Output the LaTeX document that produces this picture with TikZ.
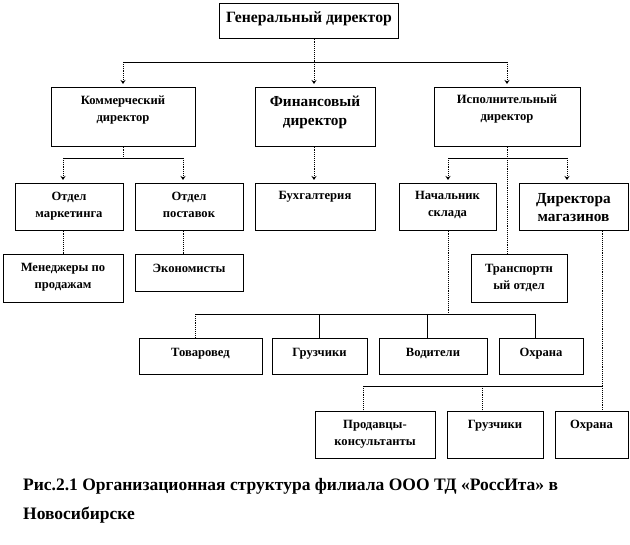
\documentclass[tikz,border=0pt]{standalone}
\usepackage{fontspec}
\setmainfont{Liberation Serif}
\usetikzlibrary{arrows.meta}
\tikzset{
  box/.style={draw=black, line width=0.7pt, rectangle, inner sep=0pt},
  lbl/.style={inner sep=0pt, align=center, font=\bfseries\fontsize{12.6}{17}\selectfont},
  bigtxt/.style={font=\bfseries\fontsize{15.3}{18.5}\selectfont},
  captxt/.style={inner sep=0pt, anchor=base west, font=\bfseries\fontsize{17.5}{20}\selectfont},
  hbus/.style={line width=0.7pt},
  vline/.style={line width=0.9pt, densely dotted},
  arr/.style={vline, -{Stealth[length=4pt,width=5pt]}, shorten >=3pt},
}
\newcommand\obox[5]{\node[box, anchor=north west, minimum width={(#4-#2)*1pt}, minimum height={(#5-#3)*1pt}] (#1) at (#2,#3) {};}
\begin{document}
\begin{tikzpicture}[x=1pt,y=-1pt]
\useasboundingbox[fill=white] (0,0) rectangle (630,545);
% boxes
\obox{gen}{219}{3}{398}{38}
\obox{komm}{51}{87}{195}{146}
\obox{fin}{255}{87}{375}{146}
\obox{isp}{434}{87}{580}{146}
\obox{mark}{15}{183}{123}{230}
\obox{post}{135}{183}{243}{230}
\obox{buh}{255}{183}{375}{230}
\obox{nach}{399}{183}{496}{230}
\obox{dir}{519}{183}{628}{230}
\obox{men}{3}{254}{123}{302}
\obox{econ}{135}{254}{243}{291}
\obox{trans}{471}{254}{567}{302}
\obox{tov}{139}{338}{262}{374}
\obox{gra}{272}{338}{367}{374}
\obox{vod}{379}{338}{487}{374}
\obox{ohra}{499}{338}{583}{374}
\obox{prod}{315}{411}{435}{458}
\obox{grb}{447}{411}{543}{458}
\obox{ohrb}{555}{411}{628}{458}
% labels
\node[lbl, bigtxt, anchor=base, font=\bfseries\fontsize{15.7}{18.5}\selectfont] (gent) at (309,23) {Генеральный директор};
\node[lbl, anchor=north] (kommt) at (123,95.5) {Коммерческий\\директор};
\node[lbl, bigtxt, anchor=north] (fint) at (315,95.8) {Финансовый\\директор};
\node[lbl, anchor=north] (ispt) at (507,94.5) {Исполнительный\\директор};
\node[lbl, anchor=north] (markt) at (69,191.5) {Отдел\\маркетинга};
\node[lbl, anchor=north] (postt) at (189,191.5) {Отдел\\поставок};
\node[lbl, anchor=base] (buht) at (315,200) {Бухгалтерия};
\node[lbl, anchor=north] (nacht) at (447.5,191.5) {Начальник\\склада};
\node[lbl, bigtxt, anchor=north] (dirt) at (573.5,192.8) {Директора\\магазинов};
\node[lbl, anchor=north] (ment) at (63,263.5) {Менеджеры по\\продажам};
\node[lbl, anchor=base] (econt) at (189,273) {Экономисты};
\node[lbl, anchor=north] (transt) at (519,264.5) {Транспортн\\ый отдел};
\node[lbl, anchor=base] (tovt) at (200.5,357) {Товаровед};
\node[lbl, anchor=base] (grat) at (319.5,357) {Грузчики};
\node[lbl, anchor=base] (vodt) at (433,357) {Водители};
\node[lbl, anchor=base] (ohrat) at (541,357) {Охрана};
\node[lbl, anchor=north] (prodt) at (375,420.5) {Продавцы-\\консультанты};
\node[lbl, anchor=base] (grbt) at (495,429) {Грузчики};
\node[lbl, anchor=base] (ohrbt) at (591.5,429) {Охрана};
% caption
\node[captxt] (cap1) at (23,491) {Рис.2.1 Организационная структура филиала ООО ТД «РоссИта» в};
\node[captxt] (cap2) at (23,520) {Новосибирске};
% junction coordinates
\coordinate (j0) at (314,62);
\coordinate (jL) at (123,62);
\coordinate (jR) at (507,62);
\coordinate (k0) at (123,158);
\coordinate (kL) at (63,158);
\coordinate (kR) at (183,158);
\coordinate (iL) at (448,158);
\coordinate (iR) at (567,158);
\coordinate (n0) at (448,314);
\coordinate (nL) at (195,314);
\coordinate (n2) at (319,314);
\coordinate (n3) at (427,314);
\coordinate (nR) at (535,314);
\coordinate (d0) at (602,386);
\coordinate (dL) at (363,386);
\coordinate (d2) at (482,386);
% connectors
\draw[vline] (gen.south -| j0) -- (j0);
\draw[hbus] (jL) -- (jR);
\draw[arr] (jL) -- (komm.north -| jL);
\draw[arr] (j0) -- (fin.north -| j0);
\draw[arr] (jR) -- (isp.north -| jR);
\draw[vline] (komm.south -| k0) -- (k0);
\draw[hbus] (kL) -- (kR);
\draw[arr] (kL) -- (mark.north -| kL);
\draw[arr] (kR) -- (post.north -| kR);
\draw[arr] (fin.south -| j0) -- (buh.north -| j0);
\draw[vline] (isp.south -| jR) -- (trans.north -| jR);
\draw[hbus] (iL) -- (iR);
\draw[arr] (iL) -- (nach.north -| iL);
\draw[arr] (iR) -- (dir.north -| iR);
\draw[vline] (mark.south -| kL) -- (men.north -| kL);
\draw[vline] (post.south -| kR) -- (econ.north -| kR);
\draw[vline] (nach.south -| n0) -- (n0);
\draw[hbus] (nL) -- (nR);
\draw[vline] (nL) -- (tov.north -| nL);
\draw[hbus] (n2) -- (gra.north -| n2);
\draw[hbus] (n3) -- (vod.north -| n3);
\draw[hbus] (nR) -- (ohra.north -| nR);
\draw[vline] (dir.south -| d0) -- (ohrb.north -| d0);
\draw[hbus] (dL) -- (d0);
\draw[vline] (dL) -- (prod.north -| dL);
\draw[vline] (d2) -- (grb.north -| d2);
\end{tikzpicture}
\end{document}
